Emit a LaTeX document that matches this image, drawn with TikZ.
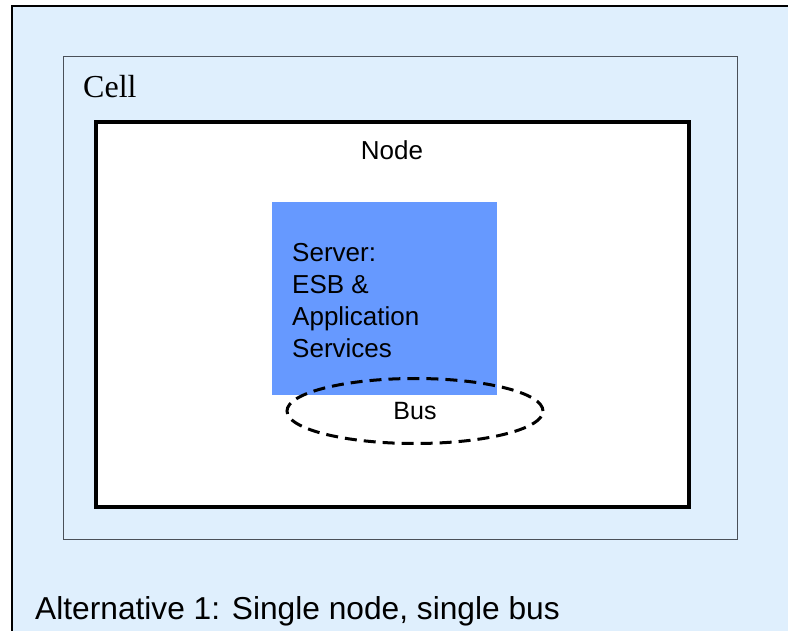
\documentclass[tikz,border=0pt]{standalone}
\usepackage{fontspec}
\setmainfont{Liberation Sans}
\newfontfamily\cellfont{Liberation Serif}
\usetikzlibrary{positioning,shapes.geometric}
\definecolor{bgblue}{HTML}{DFEFFD}
\definecolor{srvblue}{HTML}{6699FF}
\definecolor{cellline}{HTML}{4A5058}

\begin{document}
\begin{tikzpicture}[x=1pt,y=-1pt,
    lbl/.style={inner sep=0pt,anchor=base west},
    busring/.style={draw,ellipse,line width=3pt,dash pattern=on 12pt off 7pt,
      minimum width=256pt,minimum height=65pt,inner sep=0pt,
      font=\fontsize{25}{30}\selectfont}]
  \useasboundingbox (0,0) rectangle (788,631);
  \clip (0,0) rectangle (788,631);
  \coordinate (F)  at (12,6);
  \coordinate (C1) at (63,57);
  \coordinate (C2) at (737,539);
  \coordinate (N1) at (95.5,122);
  \coordinate (N2) at (689,507);
  \coordinate (S1) at (272,202);
  \coordinate (S2) at (497,395);

  \fill[bgblue] (F) rectangle (800,640);
  \draw[line width=1.5pt] (12,640) |- (800,6);
  \draw[cellline,line width=1pt] (C1) rectangle (C2);
  \draw[fill=white,line width=4pt] (N1) rectangle (N2);
  \fill[srvblue] (S1) rectangle (S2);

  \node[lbl,font=\cellfont\fontsize{32}{38}\selectfont] (cell) at (83,98) {Cell};
  \node[lbl,anchor=base,font=\fontsize{26}{32}\selectfont] (node) at (392,160) {Node};
  \foreach \t [count=\i] in {Server:,ESB \&,Application,Services}
    \node[lbl,font=\fontsize{26}{32}\selectfont] (srv\i) at (292,230+32*\i) {\t};
  \node[busring] (bus) at (415,411) {Bus};
  \node[lbl,font=\fontsize{31.7}{38}\selectfont] (alt) at (35,619) {Alternative 1: Single node, single bus};
\end{tikzpicture}
\end{document}
